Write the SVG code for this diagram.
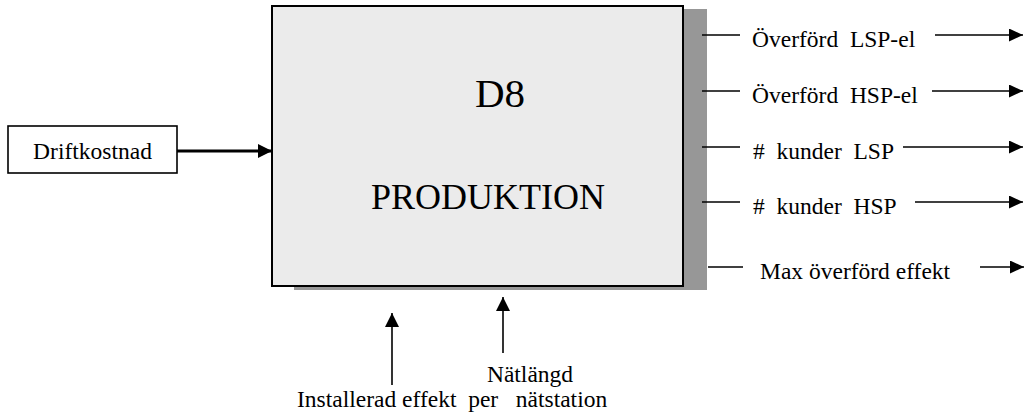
<svg xmlns="http://www.w3.org/2000/svg" width="1024" height="418" viewBox="0 0 1024 418">
<defs>
<style>
text{font-family:"Liberation Serif","Times New Roman",serif;fill:#000;white-space:pre}
.lbl{font-size:23.5px}
.ln{stroke:#000;stroke-width:1.6;fill:none}
.thick{stroke:#000;stroke-width:3.2;fill:none}
</style>
<marker id="ah" markerWidth="14" markerHeight="14" viewBox="0 0 14 14" refX="14" refY="7" orient="auto" markerUnits="userSpaceOnUse">
<path d="M0,0 L14,7 L0,14 Z" fill="#000"/>
</marker>
<marker id="ahs" markerWidth="14" markerHeight="13" viewBox="0 0 14 13" refX="14" refY="6.5" orient="auto" markerUnits="userSpaceOnUse">
<path d="M0,0 L14,6.5 L0,13 Z" fill="#000"/>
</marker>
</defs>
<rect width="1024" height="418" fill="#fff"/>
<g id="d8">
<rect x="294" y="9" width="413" height="281" fill="#979797"/>
<rect x="272" y="6" width="411" height="280" fill="#ebebeb" stroke="#000" stroke-width="2"/>
<text x="500" y="107" font-size="41" text-anchor="middle">D8</text>
<text x="488" y="209" font-size="36" text-anchor="middle">PRODUKTION</text>
</g>
<g id="driftkostnad">
<rect x="8" y="126" width="169" height="47" fill="#fff" stroke="#000" stroke-width="1.6"/>
<text class="lbl" x="92.5" y="159" text-anchor="middle">Driftkostnad</text>
</g>
<g id="labels">
<text class="lbl" x="752" y="47">Överförd  LSP-el</text>
<text class="lbl" x="752" y="103">Överförd  HSP-el</text>
<text class="lbl" x="753" y="159">#  kunder  LSP</text>
<text class="lbl" x="753" y="214">#  kunder  HSP</text>
<text class="lbl" x="760" y="279">Max överförd effekt</text>
<text class="lbl" x="530" y="382" text-anchor="middle">Nätlängd</text>
<text class="lbl" x="297" y="407">Installerad effekt  per   nätstation</text>
</g>
<g id="connectors">
<line class="thick" x1="177" y1="151" x2="272" y2="151" marker-end="url(#ah)"/>
<line class="ln" x1="702" y1="35" x2="740" y2="35"/>
<line class="ln" x1="935" y1="35" x2="1023" y2="35" marker-end="url(#ahs)"/>
<line class="ln" x1="702" y1="91" x2="740" y2="91"/>
<line class="ln" x1="932" y1="91" x2="1023" y2="91" marker-end="url(#ahs)"/>
<line class="ln" x1="702" y1="147" x2="740" y2="147"/>
<line class="ln" x1="903" y1="147" x2="1023" y2="147" marker-end="url(#ahs)"/>
<line class="ln" x1="702" y1="202" x2="740" y2="202"/>
<line class="ln" x1="915" y1="202" x2="1023" y2="202" marker-end="url(#ahs)"/>
<line class="ln" x1="708" y1="267" x2="743" y2="267"/>
<line class="ln" x1="980" y1="267" x2="1024" y2="267" marker-end="url(#ahs)"/>
<line class="ln" x1="392" y1="385" x2="392" y2="313" marker-end="url(#ah)"/>
<line class="ln" x1="503" y1="353" x2="503" y2="297" marker-end="url(#ah)"/>
</g>
</svg>
